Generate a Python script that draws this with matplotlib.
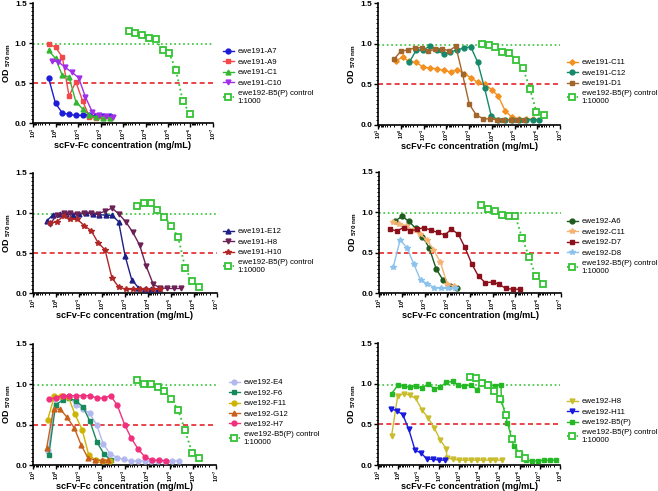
import matplotlib
matplotlib.use("Agg")
import matplotlib.pyplot as plt
from matplotlib.ticker import FixedLocator, LogLocator, MultipleLocator, NullFormatter

plt.rcParams['font.family'] = ['Liberation Sans', 'DejaVu Sans']
plt.rcParams['mathtext.fontset'] = 'custom'
plt.rcParams['mathtext.rm'] = 'Liberation Sans'
plt.rcParams['mathtext.bf'] = 'Liberation Sans:bold'
plt.rcParams['mathtext.it'] = 'Liberation Sans:italic'

W, H = 658, 491

# ---- panel 1 ----
conc_a = [2, 1, 0.5, 0.25, 0.125, 0.0625, 0.031, 0.016, 0.0078, 0.0039]
a7 = [0.56, 0.25, 0.13, 0.11, 0.10, 0.10, 0.10, 0.09, 0.09, 0.09]
a9 = [0.99, 0.95, 0.83, 0.34, 0.52, 0.28, 0.08, 0.06, 0.06, 0.06]
c1 = [0.91, 0.81, 0.60, 0.58, 0.27, 0.18, 0.10, 0.08, 0.07, 0.07]
conc_c10 = [1.5, 0.75, 0.38, 0.19, 0.094, 0.047, 0.023, 0.012, 0.0059, 0.0029]
c10 = [0.78, 0.77, 0.70, 0.64, 0.57, 0.33, 0.14, 0.10, 0.09, 0.08]
ctrl1_conc = [5.6e-4, 2.8e-4, 1.4e-4, 7.0e-5, 3.5e-5, 1.75e-5, 8.8e-6, 4.4e-6, 2.2e-6, 1.1e-6]
ctrl1 = [1.15, 1.13, 1.10, 1.07, 1.05, 0.91, 0.88, 0.66, 0.28, 0.12]

# ---- panel 2 ----
d1_conc = [2, 1, 0.5, 0.25, 0.125, 0.0625, 0.031, 0.016, 0.0078, 0.0039, 0.00195,
           9.8e-4, 4.9e-4, 2.4e-4, 1.2e-4, 6.1e-5, 3.1e-5, 1.5e-5, 7.6e-6, 3.8e-6]
d1 = [0.81, 0.91, 0.92, 0.95, 0.95, 0.91, 0.93, 0.94, 0.91, 0.97, 0.62,
      0.25, 0.12, 0.07, 0.07, 0.06, 0.06, 0.06, 0.06, 0.06]
c11_conc = [1.7, 0.85, 0.43, 0.21, 0.11, 0.053, 0.027, 0.013, 0.0066, 0.0033, 0.0017,
            8.3e-4, 4.2e-4, 2.1e-4, 1.0e-4, 5.2e-5, 2.6e-5, 1.3e-5, 6.5e-6, 3.2e-6, 1.6e-6]
c11 = [0.79, 0.83, 0.78, 0.77, 0.71, 0.70, 0.69, 0.67, 0.65, 0.68, 0.63,
       0.58, 0.52, 0.50, 0.43, 0.35, 0.17, 0.09, 0.07, 0.07, 0.07]
c12_conc = [0.43, 0.215, 0.11, 0.054, 0.027, 0.013, 0.0067, 0.0034, 0.0017, 8.4e-4,
            4.2e-4, 2.1e-4, 1.05e-4, 5.2e-5, 2.6e-5, 1.3e-5, 6.6e-6, 3.3e-6, 1.6e-6, 8.2e-7]
c12 = [0.77, 0.92, 0.92, 0.97, 0.92, 0.87, 0.90, 0.92, 0.95, 0.96,
       0.77, 0.45, 0.10, 0.06, 0.06, 0.06, 0.06, 0.06, 0.06, 0.06]
ctrl2_conc = [2.8e-4, 1.4e-4, 7.0e-5, 3.5e-5, 1.7e-5, 8.7e-6, 4.3e-6, 2.1e-6, 1.1e-6, 5.3e-7]
ctrl2 = [1.00, 0.99, 0.96, 0.90, 0.89, 0.80, 0.70, 0.44, 0.16, 0.12]

# ---- panel 3 ----
e12_conc = [2.6, 1.35, 0.70, 0.36, 0.19, 0.097, 0.050, 0.026, 0.0135, 0.0070, 0.0036,
            0.0019, 9.8e-4, 5.1e-4, 2.6e-4, 1.4e-4, 7.1e-5, 3.7e-5]
e12 = [0.90, 0.98, 0.99, 0.99, 0.98, 0.99, 1.00, 0.99, 0.98, 0.97, 0.97,
       0.89, 0.46, 0.17, 0.07, 0.05, 0.05, 0.05]
h8a_conc = [1.9, 0.95, 0.48, 0.24, 0.12, 0.059, 0.030, 0.015, 0.0074, 0.0037, 0.0019,
            9.3e-4, 4.6e-4, 2.3e-4, 1.2e-4, 5.8e-5, 2.9e-5, 1.45e-5, 7.2e-6, 3.6e-6]
h8a = [0.86, 0.97, 1.00, 1.00, 0.99, 1.00, 1.00, 0.99, 1.02, 1.06, 0.99,
       0.89, 0.76, 0.60, 0.34, 0.11, 0.07, 0.06, 0.06, 0.06]
h10_conc = [1.9, 0.95, 0.48, 0.24, 0.12, 0.059, 0.030, 0.015, 0.0074, 0.0037, 0.0019,
            9.3e-4, 4.6e-4, 2.3e-4, 1.2e-4, 5.8e-5, 2.9e-5]
h10 = [0.87, 0.89, 0.96, 0.92, 0.92, 0.84, 0.78, 0.63, 0.54, 0.19, 0.08,
       0.05, 0.05, 0.05, 0.05, 0.05, 0.05]
ctrl3_conc = [3.1e-4, 1.55e-4, 7.7e-5, 3.9e-5, 1.9e-5, 9.7e-6, 4.8e-6, 2.4e-6, 1.2e-6, 6.0e-7]
ctrl3 = [1.09, 1.12, 1.12, 1.04, 0.95, 0.84, 0.70, 0.32, 0.15, 0.08]

# ---- panel 4 ----
a6_conc = [2, 1, 0.5, 0.25, 0.125, 0.0625, 0.031, 0.016, 0.0078, 0.0039]
a6 = [0.89, 0.95, 0.89, 0.80, 0.70, 0.56, 0.30, 0.17, 0.09, 0.07]
c11b_conc = [2.6, 1.3, 0.65, 0.33, 0.16, 0.081, 0.041, 0.020, 0.010, 0.0051]
c11b = [0.88, 0.86, 0.83, 0.78, 0.73, 0.66, 0.54, 0.38, 0.11, 0.09]
d7_conc = [3.4, 1.7, 0.85, 0.43, 0.21, 0.11, 0.053, 0.027, 0.013, 0.0066, 0.0033,
           0.0017, 8.3e-4, 4.2e-4, 2.1e-4, 1.0e-4, 5.2e-5, 2.6e-5, 1.3e-5, 6.5e-6]
d7 = [0.79, 0.77, 0.81, 0.77, 0.79, 0.81, 0.78, 0.75, 0.72, 0.79, 0.73,
      0.57, 0.36, 0.21, 0.13, 0.14, 0.11, 0.06, 0.05, 0.05]
d8_conc = [2.4, 1.2, 0.6, 0.3, 0.15, 0.075, 0.0375, 0.019, 0.0094, 0.0047]
d8 = [0.33, 0.66, 0.56, 0.36, 0.16, 0.12, 0.07, 0.06, 0.06, 0.06]
ctrl4_conc = [3.2e-4, 1.6e-4, 8.0e-5, 4.0e-5, 2.0e-5, 1.0e-5, 5.0e-6, 2.5e-6, 1.25e-6, 6.2e-7]
ctrl4 = [1.09, 1.04, 1.01, 0.97, 0.95, 0.95, 0.68, 0.45, 0.21, 0.12]

# ---- panel 5 ----
e4_conc = [2.2, 1.1, 0.55, 0.275, 0.14, 0.069, 0.034, 0.017, 0.0086, 0.0043, 0.0021,
           0.0011, 5.4e-4, 2.7e-4, 1.3e-4, 6.7e-5, 3.4e-5, 1.7e-5, 8.4e-6, 4.2e-6]
e4 = [0.17, 0.82, 0.83, 0.85, 0.75, 0.70, 0.64, 0.50, 0.26, 0.14, 0.09,
      0.07, 0.05, 0.05, 0.05, 0.05, 0.05, 0.05, 0.05, 0.05]
f6_conc = [2.1, 1.05, 0.52, 0.26, 0.13, 0.066, 0.033, 0.016, 0.0082, 0.0041]
f6 = [0.12, 0.75, 0.80, 0.83, 0.79, 0.72, 0.54, 0.28, 0.14, 0.06]
f11_conc = [2.35, 1.2, 0.59, 0.29, 0.15, 0.073, 0.037, 0.018, 0.0092, 0.0046]
f11 = [0.56, 0.85, 0.86, 0.84, 0.63, 0.44, 0.12, 0.06, 0.05, 0.05]
g12_conc = [2.6, 1.3, 0.65, 0.33, 0.16, 0.081, 0.041, 0.020, 0.010, 0.0051]
g12 = [0.21, 0.70, 0.69, 0.59, 0.46, 0.25, 0.09, 0.06, 0.06, 0.06]
h7_conc = [2.1, 1.05, 0.52, 0.26, 0.13, 0.066, 0.033, 0.016, 0.0082, 0.0041, 0.0021,
           0.001, 5.1e-4, 2.6e-4, 1.3e-4, 6.4e-5, 3.2e-5, 1.6e-5]
h7 = [0.82, 0.83, 0.86, 0.86, 0.86, 0.86, 0.86, 0.83, 0.83, 0.86, 0.74,
      0.50, 0.33, 0.20, 0.10, 0.06, 0.06, 0.05]
ctrl5_conc = [2.9e-4, 1.45e-4, 7.3e-5, 3.6e-5, 1.8e-5, 9.1e-6, 4.5e-6, 2.3e-6, 1.1e-6, 5.7e-7]
ctrl5 = [1.05, 1.00, 1.00, 0.97, 0.92, 0.82, 0.68, 0.43, 0.15, 0.09]

# ---- panel 6 ----
h8b_conc = [2.2, 1.1, 0.55, 0.275, 0.14, 0.069, 0.034, 0.017, 0.0086, 0.0043,
            0.0040, 0.0020, 0.0010, 5.0e-4, 2.5e-4, 1.25e-4, 6.2e-5, 3.1e-5, 1.6e-5, 7.8e-6]
h8b = [0.36, 0.85, 0.88, 0.86, 0.82, 0.68, 0.58, 0.46, 0.31, 0.20,
       0.09, 0.07, 0.06, 0.06, 0.06, 0.06, 0.06, 0.06, 0.06, 0.06]
h11_conc = [2.45, 1.2, 0.61, 0.31, 0.15, 0.077, 0.038, 0.019, 0.0096, 0.0048]
h11 = [0.69, 0.67, 0.62, 0.44, 0.18, 0.15, 0.07, 0.07, 0.06, 0.06]
b5_conc = [2.2, 1.1, 0.55, 0.275, 0.14, 0.069, 0.034, 0.017, 0.0086, 0.0043, 0.0021,
           0.0011, 5.4e-4, 2.7e-4, 1.3e-4, 6.7e-5, 3.4e-5, 1.7e-5, 8.4e-6,
           8.0e-6, 4.0e-6, 2.0e-6, 1.0e-6, 5.0e-7, 2.5e-7, 1.25e-7, 6.2e-8, 3.1e-8, 1.6e-8]
b5 = [0.88, 0.98, 0.97, 0.96, 0.97, 0.95, 1.00, 0.94, 0.96, 1.02, 1.03,
      0.98, 0.97, 0.99, 0.93, 1.02, 1.00, 0.97, 0.99,
      0.80, 0.52, 0.24, 0.13, 0.06, 0.05, 0.05, 0.06, 0.06, 0.06]
ctrl6_conc = [2.9e-4, 1.45e-4, 7.3e-5, 3.6e-5, 1.8e-5, 9.1e-6, 4.5e-6, 2.3e-6, 1.1e-6, 5.7e-7]
ctrl6 = [1.08, 1.07, 1.01, 0.98, 0.91, 0.81, 0.62, 0.32, 0.13, 0.09]

CTRL_GREEN = '#35c335'
ctrl_label = 'ewe192-B5(P) control\n1:10000'

fig = plt.figure(figsize=(W / 100, H / 100), dpi=100)


def panel(l, r, t, b, leg_xy, lowest=-7):
    ax = fig.add_axes([l / W, 1 - b / H, (r - l) / W, (b - t) / H])
    ax.set_xscale('log')
    ax.set_xlim(10, 10.0 ** lowest)
    ax.set_ylim(0, 1.5)
    exps = list(range(1, lowest - 1, -1))
    ax.xaxis.set_major_locator(FixedLocator([10.0 ** k for k in exps]))
    ax.set_xticklabels([r'$\mathbf{10^{%d}}$' % k for k in exps])
    ax.xaxis.set_minor_locator(LogLocator(base=10, subs=range(2, 10), numticks=50))
    ax.xaxis.set_minor_formatter(NullFormatter())
    ax.set_yticks([0, 0.5, 1.0, 1.5])
    ax.set_yticklabels(['0.0', '0.5', '1.0', '1.5'], fontweight='bold')
    ax.yaxis.set_minor_locator(MultipleLocator(0.05))
    ax.tick_params(axis='x', which='major', length=2.6, width=1, labelsize=4.0,
                   labelrotation=90, pad=0.6)
    ax.tick_params(axis='x', which='minor', length=1.5, width=0.7)
    ax.tick_params(axis='y', which='major', length=3, width=1, labelsize=6, pad=1.5)
    ax.tick_params(axis='y', which='minor', length=1.6, width=0.7)
    for s in ['top', 'right']:
        ax.spines[s].set_visible(False)
    for s in ['left', 'bottom']:
        ax.spines[s].set_linewidth(1.2)
    ax.axhline(0.99, color=CTRL_GREEN, ls=':', lw=1.2, zorder=1)
    ax.axhline(0.5, color='#e5262b', ls=(0, (3, 2)), lw=1.2, zorder=1)
    ax.set_xlabel('scFv-Fc concentration (mg/mL)', fontsize=6.6, fontweight='bold', labelpad=0.3)
    ax.set_ylabel(r'OD $_{\mathbf{570\ nm}}$', fontsize=6.5, fontweight='bold', labelpad=1.5)
    ax._leg_xy = leg_xy
    return ax


def series(ax, x, y, color, marker, label, ms=3.5):
    ax.plot(x, y, color=color, marker=marker, ms=ms, lw=1.0, label=label, zorder=3)


def control(ax, x, y, label=ctrl_label):
    ax.plot(x, y, color=CTRL_GREEN, ls=':', lw=1.3, marker='s', ms=4.5, mfc='white',
            mew=1.3, label=label, zorder=4)


def finish(ax):
    lx, ly = ax._leg_xy
    ax.legend(loc='upper left', bbox_to_anchor=(lx / W, 1 - ly / H),
              bbox_transform=fig.transFigure, frameon=False, fontsize=5.6,
              handlelength=1.35, handletextpad=0.55, labelspacing=0.38,
              borderpad=0, borderaxespad=0)


ax1 = panel(33, 213, 3.3, 123.3, (223, 48))
series(ax1, conc_a, a7, '#1c1cd8', 'o', 'ewe191-A7')
series(ax1, conc_a, a9, '#f2484a', 's', 'ewe191-A9')
series(ax1, conc_a, c1, '#32b832', '^', 'ewe191-C1')
series(ax1, conc_c10, c10, '#a22ee8', 'v', 'ewe191-C10')
control(ax1, ctrl1_conc, ctrl1, 'ewe192-B5(P) control\n1:1000')
finish(ax1)

ax2 = panel(378.3, 560, 3.3, 124.5, (567, 59))
series(ax2, c11_conc, c11, '#f3901f', 'D', 'ewe191-C11', ms=2.8)
series(ax2, c12_conc, c12, '#15896a', 'o', 'ewe191-C12')
series(ax2, d1_conc, d1, '#a2652b', 's', 'ewe191-D1')
control(ax2, ctrl2_conc, ctrl2)
finish(ax2)

ax3 = panel(33.3, 216.7, 172.7, 293.3, (223, 228))
series(ax3, e12_conc, e12, '#1d1f86', '^', 'ewe191-E12')
series(ax3, h8a_conc, h8a, '#6b2155', 'v', 'ewe191-H8')
series(ax3, h10_conc, h10, '#b02525', '*', 'ewe191-H10', ms=4)
control(ax3, ctrl3_conc, ctrl3)
finish(ax3)

ax4 = panel(379.3, 560.7, 171.7, 293.3, (567, 218))
series(ax4, a6_conc, a6, '#1e5c1e', 'o', 'ewe192-A6')
series(ax4, c11b_conc, c11b, '#f5b273', '*', 'ewe192-C11', ms=4)
series(ax4, d7_conc, d7, '#8c101c', 's', 'ewe192-D7')
series(ax4, d8_conc, d8, '#8cc3ee', '*', 'ewe192-D8', ms=4)
control(ax4, ctrl4_conc, ctrl4)
finish(ax4)

ax5 = panel(33.3, 216, 344, 465, (229, 379))
series(ax5, e4_conc, e4, '#b3b9ef', 'o', 'ewe192-E4')
series(ax5, f6_conc, f6, '#178a5b', 's', 'ewe192-F6')
series(ax5, f11_conc, f11, '#cdb404', 'o', 'ewe192-F11')
series(ax5, g12_conc, g12, '#c8601c', '^', 'ewe192-G12')
series(ax5, h7_conc, h7, '#f0307c', 'o', 'ewe192-H7')
control(ax5, ctrl5_conc, ctrl5)
finish(ax5)

ax6 = panel(378.3, 560, 343.3, 465, (567, 398), lowest=-8)
series(ax6, h8b_conc, h8b, '#c9bd2e', 'v', 'ewe192-H8')
series(ax6, h11_conc, h11, '#1a1ade', 'v', 'ewe192-H11')
series(ax6, b5_conc, b5, '#25b825', 's', 'ewe192-B5(P)')
control(ax6, ctrl6_conc, ctrl6)
finish(ax6)

fig.savefig('out.png', dpi=100)
